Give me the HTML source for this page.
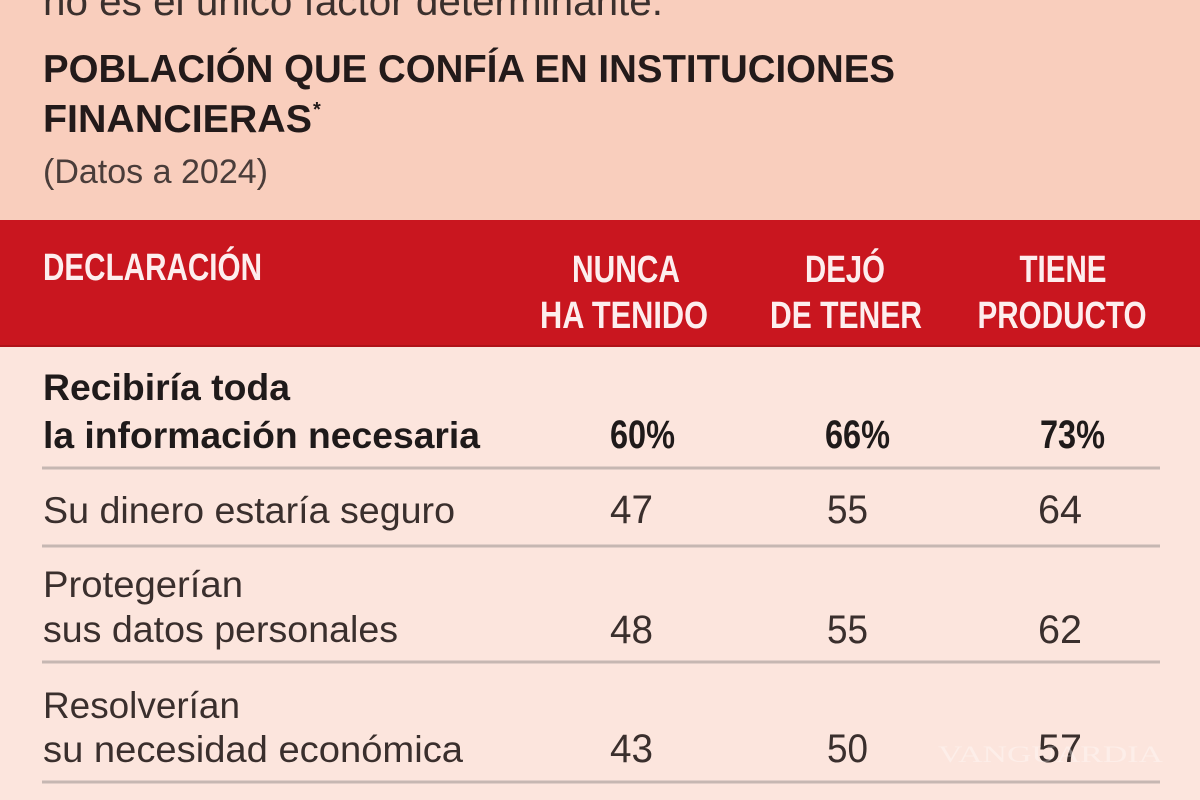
<!DOCTYPE html>
<html>
<head>
<meta charset="utf-8">
<style>
  html,body{margin:0;padding:0;width:1200px;height:800px;overflow:hidden;background:#f9cfbf;}
  svg{display:block;}
  .sans{font-family:"Liberation Sans",Arial,sans-serif;}
  .serif{font-family:"Liberation Serif",serif;}
</style>
</head>
<body>
<svg width="1200" height="800" viewBox="0 0 1200 800" xmlns="http://www.w3.org/2000/svg">
  <rect x="0" y="0" width="1200" height="800" fill="#f9cebd"/>
  <rect x="0" y="347" width="1200" height="453" fill="#fce5dd"/>
  <rect x="0" y="220" width="1200" height="127" fill="#c9161f"/>
  <rect x="0" y="345" width="1200" height="2" fill="#b01219"/>

  <!-- top partial text -->
  <text class="sans" x="43" y="15" font-size="40" fill="#3b302d" textLength="620" lengthAdjust="spacingAndGlyphs">no es el único factor determinante.</text>

  <!-- title -->
  <text class="sans" x="43" y="82" font-size="38.5" font-weight="bold" fill="#231a1a" textLength="852" lengthAdjust="spacingAndGlyphs">POBLACIÓN QUE CONFÍA EN INSTITUCIONES</text>
  <text class="sans" x="43" y="132" font-size="38.5" font-weight="bold" fill="#231a1a" textLength="269" lengthAdjust="spacingAndGlyphs">FINANCIERAS</text>
  <text class="sans" x="313" y="116" font-size="20" font-weight="bold" fill="#231a1a">*</text>
  <text class="sans" x="43" y="183" font-size="34" fill="#4a3d3a" textLength="225" lengthAdjust="spacingAndGlyphs">(Datos a 2024)</text>

  <!-- header -->
  <g class="sans" font-weight="bold" font-size="38" fill="#fdeeee">
    <text x="43" y="280" textLength="219" lengthAdjust="spacingAndGlyphs">DECLARACIÓN</text>
    <text x="626" y="282" text-anchor="middle" textLength="108" lengthAdjust="spacingAndGlyphs">NUNCA</text>
    <text x="624" y="328" text-anchor="middle" textLength="168" lengthAdjust="spacingAndGlyphs">HA TENIDO</text>
    <text x="845" y="282" text-anchor="middle" textLength="80" lengthAdjust="spacingAndGlyphs">DEJÓ</text>
    <text x="846" y="328" text-anchor="middle" textLength="152" lengthAdjust="spacingAndGlyphs">DE TENER</text>
    <text x="1063" y="282" text-anchor="middle" textLength="87" lengthAdjust="spacingAndGlyphs">TIENE</text>
    <text x="1062" y="328" text-anchor="middle" textLength="169" lengthAdjust="spacingAndGlyphs">PRODUCTO</text>
  </g>

  <!-- row 1 (bold) -->
  <g class="sans" font-weight="bold" font-size="37.5" fill="#1f1a1a">
    <text x="43" y="400" textLength="247" lengthAdjust="spacingAndGlyphs">Recibiría toda</text>
    <text x="43" y="448" textLength="437" lengthAdjust="spacingAndGlyphs">la información necesaria</text>
  </g>
  <g class="sans" font-weight="bold" font-size="40" fill="#1f1a1a">
    <text x="610" y="448" textLength="65" lengthAdjust="spacingAndGlyphs">60%</text>
    <text x="825" y="448" textLength="65" lengthAdjust="spacingAndGlyphs">66%</text>
    <text x="1040" y="448" textLength="65" lengthAdjust="spacingAndGlyphs">73%</text>
  </g>

  <!-- separators -->
  <g stroke="#c6b7b2" stroke-width="3">
    <line x1="42" y1="468" x2="1160" y2="468"/>
    <line x1="42" y1="546" x2="1160" y2="546"/>
    <line x1="42" y1="662" x2="1160" y2="662"/>
    <line x1="42" y1="782" x2="1160" y2="782"/>
  </g>

  <!-- regular rows -->
  <g class="sans" font-size="37.5" fill="#3a2f2d">
    <text x="43" y="523" textLength="412" lengthAdjust="spacingAndGlyphs">Su dinero estaría seguro</text>
    <text x="43" y="597" textLength="200" lengthAdjust="spacingAndGlyphs">Protegerían</text>
    <text x="43" y="642" textLength="355" lengthAdjust="spacingAndGlyphs">sus datos personales</text>
    <text x="43" y="718" textLength="197" lengthAdjust="spacingAndGlyphs">Resolverían</text>
    <text x="43" y="762" textLength="420" lengthAdjust="spacingAndGlyphs">su necesidad económica</text>
  </g>
  <g class="sans" font-size="40" fill="#3a2f2d">
    <text x="610" y="523" textLength="43" lengthAdjust="spacingAndGlyphs">47</text>
    <text x="827" y="523" textLength="41" lengthAdjust="spacingAndGlyphs">55</text>
    <text x="1038" y="523" textLength="44" lengthAdjust="spacingAndGlyphs">64</text>

    <text x="610" y="643" textLength="43" lengthAdjust="spacingAndGlyphs">48</text>
    <text x="827" y="643" textLength="41" lengthAdjust="spacingAndGlyphs">55</text>
    <text x="1038" y="643" textLength="44" lengthAdjust="spacingAndGlyphs">62</text>

    <text x="610" y="762" textLength="43" lengthAdjust="spacingAndGlyphs">43</text>
    <text x="827" y="762" textLength="41" lengthAdjust="spacingAndGlyphs">50</text>
    <text x="1038" y="762" textLength="44" lengthAdjust="spacingAndGlyphs">57</text>
  </g>

  <!-- watermark -->
  <text class="serif" x="938" y="762" font-size="23" fill="#ffffff" fill-opacity="0.35" textLength="225" lengthAdjust="spacingAndGlyphs">VANGUARDIA</text>
</svg>
</body>
</html>
